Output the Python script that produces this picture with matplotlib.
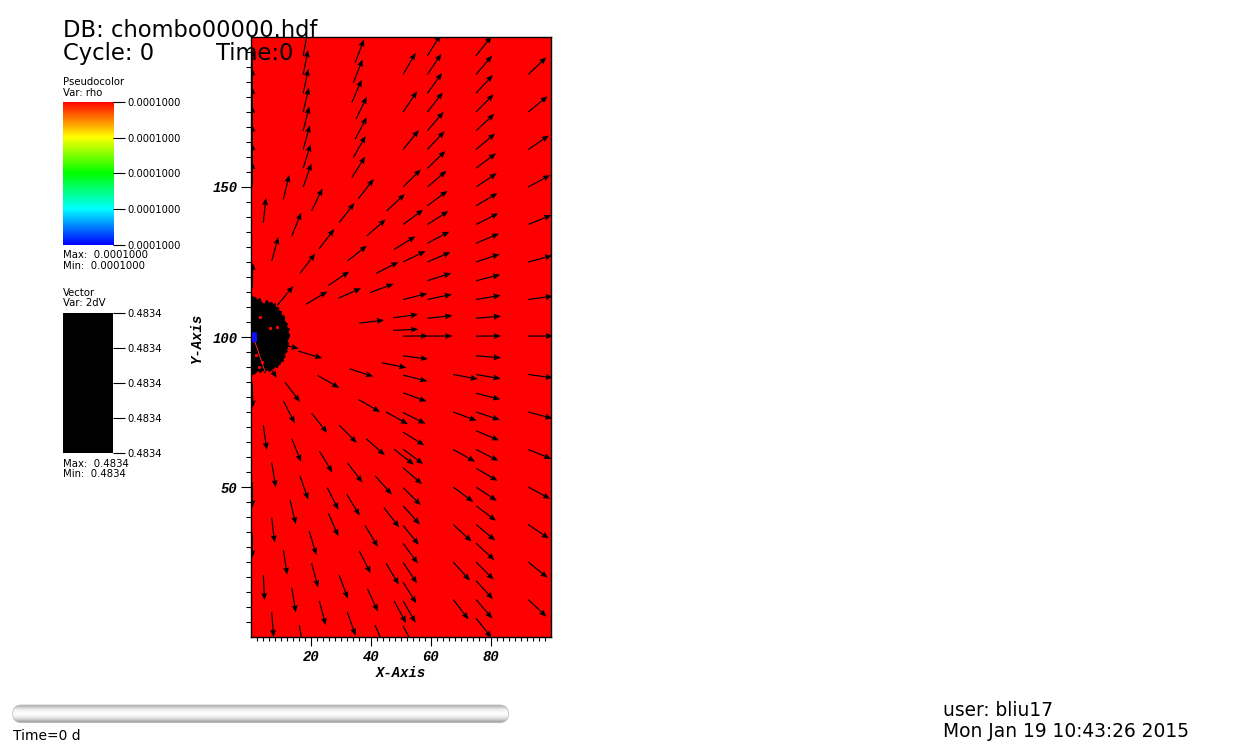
import matplotlib
matplotlib.use('Agg')
import matplotlib.pyplot as plt
import numpy as np
from matplotlib.colors import LinearSegmentedColormap
from matplotlib.patches import FancyBboxPatch

W, H = 1259, 750

# flow source and glyph length (data units)
src_x, src_y = 0.0, 100.0
arrow_len = 8.33

# regular columns of vector glyph tails on the right half
col_x = [50.7, 58.8, 67.4, 75.0, 92.4]
col_y = [
    [187.5, 175, 162.5, 150, 137.5, 125, 112.5, 100.3, 93.7, 87.3, 81.4, 74.8,
     68.3, 62.6, 56.4, 49.8, 43.7, 37.2, 31.2, 24.8, 18.3, 12.0, 3.7],
    [193.75, 187.5, 181.25, 175, 168.75, 162.5, 156.25, 150, 143.75, 137.5,
     131.25, 125, 118.75, 112.5, 106.25, 100.3],
    [87.5, 75, 62.5, 50, 37.5, 25, 12.5],
    [193.75, 187.5, 181.25, 175, 168.75, 162.5, 156.25, 150, 143.75, 137.5,
     131.25, 125, 118.75, 112.5, 106.25, 100.3, 93.75, 87.5, 81.25, 75, 68.75,
     62.5, 56.25, 50, 43.75, 37.5, 31.25, 25, 18.75, 12.5, 6.25],
    [187.5, 175, 162.5, 150, 137.5, 125, 112.5, 100.3, 87.5, 75, 62.5, 50,
     37.5, 25, 12.5],
]

# scattered glyph tails on the left half (finer AMR levels)
left_x = [17.4, 17.4, 17.4, 17.4, 17.4, 17.4, 17.4, 17.4,
          34.7, 34.1, 33.6, 35.0, 34.7, 34.1, 33.6,
          4.1, 6.9, 10.8, 13.6, 20.2, 16.3, 22.7, 29.4, 35.8, 25.8, 32.1,
          38.6, 45.2, 47.7, 41.7, 39.7, 29.1, 18.3, 8.8, 36.1, 47.4, 47.4,
          7.8, 15.8, 32.8, 43.6, 22.2, 11.3, 4.15, 35.8, 10.8, 20.2, 29.4,
          38.4, 45.0, 47.7, 4.1, 13.6, 22.8, 32.1, 41.4, 6.9, 16.3, 25.4,
          31.9, 44.3, 13.0, 25.8, 38.0, 6.9, 19.4, 36.1, 10.8, 45.0, 20.2,
          29.4, 4.1, 13.6, 22.8, 38.8, 47.7, 6.9, 16.1, 32.1, 41.4,
          0.4, 0.4, 0.4, 0.4, 0.4, 0.4, 0.4, 0.4, 0.4, 0.4, 0.4]
left_y = [193.75, 187.5, 181.25, 175, 168.75, 162.5, 156.25, 150,
          191.4, 184.8, 178.1, 172.6, 165.9, 159.8, 153.1,
          138.1, 125.3, 145.9, 133.7, 142.0, 121.2, 129.4, 138.1, 146.1, 117.2,
          125.3, 133.7, 142.0, 129.2, 121.2, 114.8, 112.9, 110.9, 110.6, 104.6,
          106.4, 102.2,
          98.1, 95.3, 89.4, 91.4, 87.2, 85.0, 93.4, 79.2, 78.7, 74.6, 70.6,
          66.1, 75.0, 62.6, 70.6, 66.1, 62.0, 58.1, 53.7, 58.1, 53.7, 49.8,
          47.6, 43.1, 45.7, 41.2, 37.2, 39.8, 35.3, 28.7, 29.0, 24.6, 24.6,
          20.6, 20.6, 16.4, 12.0, 16.1, 12.0, 8.3, 3.9, 8.3, 3.9,
          187.5, 181.25, 175, 168.75, 162.5, 156.25, 150, 116.4, 84.8, 51.5, 34.8]

# dense glyph cluster around the source (jagged outline of the black region)
blob_x = [0, 0.6, 1.0, 1.5, 2.0, 2.3, 3.0, 3.4, 3.8, 4.7, 5.1, 5.5, 6.0, 6.3,
          7.0, 7.5, 8.2, 8.1, 8.6, 9.3, 9.2, 9.6, 10.2, 10.0, 10.6, 11.3,
          11.1, 11.6, 12.2, 11.8, 12.8, 12.3, 12.9, 12.6, 12.0, 12.5, 12.3,
          11.9, 12.1, 11.2, 11.4, 10.8, 10.9, 10.1, 9.8, 9.2, 8.6, 8.0, 7.5,
          6.9, 6.3, 5.6, 5.2, 4.6, 4.1, 3.5, 3.0, 2.4, 1.9, 1.2, 0.8, 0]
blob_y = [112.7, 113.6, 112.9, 113.3, 112.2, 112.4, 112.9, 111.6, 111.3,
          111.0, 112.2, 112.0, 111.0, 111.4, 111.5, 110.8, 111.2, 110.2,
          109.8, 109.7, 108.9, 108.6, 108.4, 107.6, 107.2, 106.6, 105.5,
          104.8, 104.4, 103.4, 102.6, 101.6, 100.7, 99.5, 98.8, 97.9, 97.0,
          95.7, 95.1, 94.5, 93.4, 92.8, 91.9, 92.0, 91.0, 90.6, 89.7, 90.3,
          89.3, 89.6, 88.4, 89.0, 89.2, 88.0, 89.0, 88.5, 88.1, 88.9, 88.4,
          87.7, 87.6, 87.3]
speck_x = [3.0, 6.3, 8.6, 1.7, 3.6, 2.8]
speck_y = [106.8, 102.9, 103.4, 94.0, 91.8, 89.9]

rho_ticks = ['0.0001000'] * 5
vec_ticks = ['0.4834'] * 5

fig = plt.figure(figsize=(W / 100, H / 100), dpi=100)

# main plot
ax = fig.add_axes([251 / W, 1 - 637 / H, 300 / W, 600 / H])
ax.set_facecolor('#ff0000')
ax.set_xlim(0, 100)
ax.set_ylim(0, 200)

tx = np.array([x for x, ys in zip(col_x, col_y) for _ in ys] + left_x)
ty = np.array([y for ys in col_y for y in ys] + left_y)
dx = tx - src_x
dy = ty - src_y
r = np.hypot(dx, dy)
ax.quiver(tx, ty, arrow_len * dx / r, arrow_len * dy / r, angles='xy',
          scale_units='xy', scale=1, pivot='tail', color='black',
          width=0.004, headwidth=5.0, headlength=6.0, headaxislength=5.4,
          zorder=3)

ax.fill(blob_x, blob_y, color='black', lw=0.6, zorder=4)
ax.plot([1.3, 4.7], [98.4, 88.4], color='#ff2020', lw=0.7, zorder=5)
ax.fill([0.6, 1.8, 1.7, 0.6], [98.4, 98.6, 101.3, 101.4], color='#1010ff', zorder=5)
ax.plot(speck_x, speck_y, 's', color='red', ms=1.2, zorder=5)

tick_font = dict(family='Liberation Mono', weight='bold', style='italic', size=10)
ax.set_xticks([20, 40, 60, 80])
ax.set_xticks(np.arange(2, 100, 2), minor=True)
ax.set_yticks([50, 100, 150])
ax.set_yticks(np.arange(5, 200, 5), minor=True)
ax.set_xticklabels(['20', '40', '60', '80'], fontdict=tick_font)
ax.set_yticklabels(['50', '100', '150'], fontdict=tick_font)
ax.tick_params(axis='x', which='major', direction='out', length=6.5, width=0.8, pad=3)
ax.tick_params(axis='x', which='minor', direction='out', length=3.1, width=0.8)
ax.tick_params(axis='y', which='major', direction='out', length=7.2, width=0.8, pad=2.5)
ax.tick_params(axis='y', which='minor', direction='out', length=3.6, width=0.8)
for s in ax.spines.values():
    s.set_linewidth(1.0)

# legend colour bars
hot = LinearSegmentedColormap.from_list(
    'hot_visit', ['#0000ff', '#00ffff', '#00ff00', '#ffff00', '#ff0000'])


def legend_bar(top, bottom, labels, cmap=None):
    cax = fig.add_axes([63 / W, 1 - bottom / H, 50 / W, (bottom - top) / H])
    if cmap is None:
        cax.set_facecolor('black')
    else:
        cax.imshow(np.linspace(1, 0, 256)[:, None], cmap=cmap, aspect='auto',
                   extent=[0, 1, 0, 1])
    cax.set_xlim(0, 1)
    cax.set_ylim(0, 1)
    cax.set_xticks([])
    cax.yaxis.tick_right()
    cax.set_yticks(np.linspace(0, 1, len(labels)))
    cax.set_yticklabels(labels, fontsize=7.2)
    cax.tick_params(axis='y', direction='out', length=8.6, width=0.8, pad=1.5)
    for s in cax.spines.values():
        s.set_visible(False)
    return cax


legend_bar(101.7, 245, rho_ticks, hot)
legend_bar(313.3, 453.3, vec_ticks)

# overlay in pixel coordinates for annotations
ov = fig.add_axes([0, 0, 1, 1], facecolor='none')
ov.set_xlim(0, W)
ov.set_ylim(H, 0)
ov.axis('off')

ov.text(63, 37, 'DB: chombo00000.hdf', fontsize=16.3, va='baseline')
ov.text(63, 60, 'Cycle: 0', fontsize=16.3, va='baseline')
ov.text(216, 60, 'Time:0', fontsize=16.3, va='baseline')

small = 7.3
ov.text(63, 85, 'Pseudocolor', fontsize=small, va='baseline')
ov.text(63, 95.5, 'Var: rho', fontsize=small, va='baseline')
ov.text(63, 258, 'Max:  0.0001000', fontsize=small, va='baseline')
ov.text(63, 268.7, 'Min:  0.0001000', fontsize=small, va='baseline')
ov.text(63, 295.7, 'Vector', fontsize=small, va='baseline')
ov.text(63, 306, 'Var: 2dV', fontsize=small, va='baseline')
ov.text(63, 466.7, 'Max:  0.4834', fontsize=small, va='baseline')
ov.text(63, 477.3, 'Min:  0.4834', fontsize=small, va='baseline')

ov.text(401, 673, 'X-Axis', ha='center', va='center', fontfamily='Liberation Mono',
        fontweight='bold', fontstyle='italic', fontsize=10)
ov.text(197, 337.5, 'Y-Axis', ha='center', va='center', rotation=90,
        fontfamily='Liberation Mono', fontweight='bold', fontstyle='italic', fontsize=10)

# time slider
bar = FancyBboxPatch((12.7, 705), 495.8, 17.7,
                     boxstyle='round,pad=0,rounding_size=8.8',
                     facecolor='none', edgecolor='#b8b8b8', lw=0.5)
ov.add_patch(bar)
shade = [0.70, 0.84, 0.93, 0.97, 0.99, 0.98, 0.94, 0.86, 0.74, 0.62]
img = ov.imshow(np.array(shade)[:, None], cmap='gray', vmin=0, vmax=1,
                extent=[12.7, 508.5, 722.7, 705], aspect='auto',
                interpolation='bicubic')
img.set_clip_path(bar)
ov.set_xlim(0, W)
ov.set_ylim(H, 0)

ov.text(13, 740, 'Time=0 d', fontsize=10, va='baseline')
ov.text(943, 716, 'user: bliu17', fontsize=13.4, va='baseline')
ov.text(943, 736.7, 'Mon Jan 19 10:43:26 2015', fontsize=13.4, va='baseline')

fig.savefig('out.png', dpi=100)
